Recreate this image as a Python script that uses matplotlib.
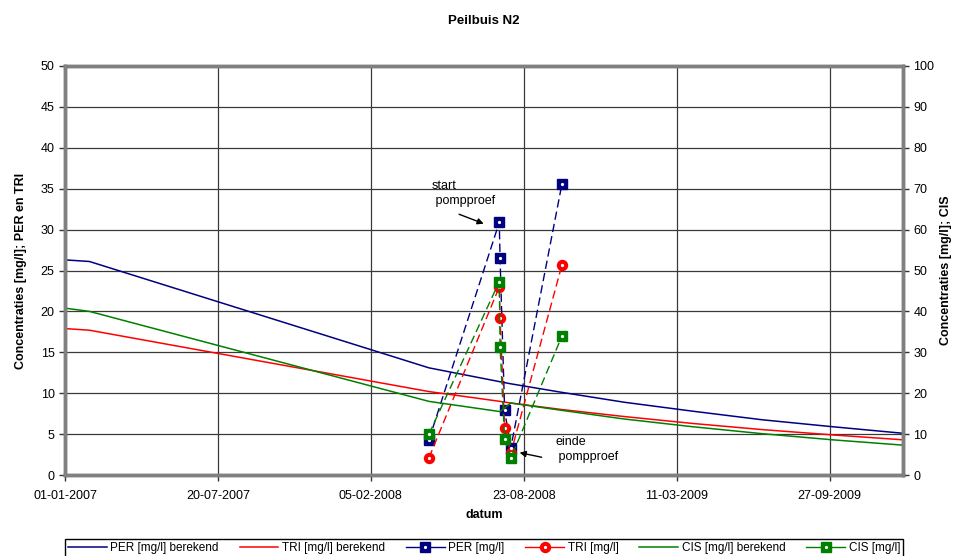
import numpy as np
import pandas as pd
import matplotlib
matplotlib.use('Agg')
import matplotlib.pyplot as plt
import matplotlib.dates as mdates
from matplotlib.lines import Line2D
from matplotlib.legend_handler import HandlerTuple

plt.rcParams['font.family'] = ['Liberation Sans', 'DejaVu Sans']

# berekende concentraties
calc_dates = pd.to_datetime(['2007-01-01', '2007-02-02', '2008-04-21', '2008-07-23', '2008-08-06',
                             '2008-10-12', '2009-01-01', '2009-04-01', '2009-07-01', '2009-10-01',
                             '2010-01-01'])
per_calc = [26.3, 26.1, 13.1, 11.4, 11.15, 10.1, 8.9, 7.8, 6.75, 5.9, 5.1]
tri_calc = [17.9, 17.7, 10.2, 9.0, 8.8, 8.0, 7.15, 6.3, 5.55, 4.9, 4.3]
cis_calc = [40.8, 40.0, 18.0, 15.5, 17.6, 15.8, 13.7, 11.8, 10.1, 8.6, 7.3]

# gemeten concentraties
meas_dates = pd.to_datetime(['2008-04-21', '2008-07-22', '2008-07-23', '2008-07-29',
                             '2008-08-06', '2008-10-12'])
per_meas = [4.3, 30.9, 26.5, 7.9, 3.3, 35.6]
tri_meas = [2.1, 23.0, 19.2, 5.8, 2.65, 25.7]
cis_meas = [10.0, 47.3, 31.4, 8.7, 4.1, 34.0]

x_ticks = pd.date_range('2007-01-01', periods=6, freq='200D')

NAVY = '#000080'
RED = '#FF0000'
GREEN = '#008000'


def measured(ax, x, y, color, marker, ms):
    ax.plot(x, y, color=color, lw=1.0, dashes=(6, 3), marker=marker, ms=ms,
            mfc=color, mec=color, zorder=4)
    ax.plot(x, y, ls='none', marker='o', ms=1.3, mfc='white', mec='white', zorder=5)
    # legend proxy: solid line with marker + white centre
    line = Line2D([], [], color=color, lw=1.0, marker=marker, ms=ms, mfc=color, mec=color)
    dot = Line2D([], [], ls='none', marker='o', ms=1.3, mfc='white', mec='white')
    return (line, dot)


def main():
    fig = plt.figure(figsize=(9.55, 5.56), dpi=100)
    ax = fig.add_axes([65 / 955, 1 - 475 / 556, (903 - 65) / 955, (475 - 66) / 556])
    ax2 = ax.twinx()

    h1, = ax.plot(calc_dates, per_calc, color=NAVY, lw=1.1)
    h2, = ax.plot(calc_dates, tri_calc, color=RED, lw=1.1)
    h3 = measured(ax, meas_dates, per_meas, NAVY, 's', 6.5)
    h4 = measured(ax, meas_dates, tri_meas, RED, 'o', 7.2)
    h5, = ax2.plot(calc_dates, cis_calc, color=GREEN, lw=1.1)
    h6 = measured(ax2, meas_dates, cis_meas, GREEN, 's', 6.5)

    ax.set_xlim(pd.Timestamp('2007-01-01'), pd.Timestamp('2010-01-01'))
    ax.set_ylim(0, 50)
    ax2.set_ylim(0, 100)
    ax.set_yticks(np.arange(0, 51, 5))
    ax2.set_yticks(np.arange(0, 101, 10))
    ax.set_xticks(x_ticks)
    ax.xaxis.set_major_formatter(mdates.DateFormatter('%d-%m-%Y'))

    ax.grid(True, color='#3a3a3a', lw=0.9)
    ax.set_axisbelow(True)
    for a in (ax, ax2):
        for s in a.spines.values():
            s.set_color('#808080')
            s.set_linewidth(2.5)
        a.tick_params(labelsize=9, length=4, width=1, color='#333333', direction='out')
    ax.tick_params(axis='x', pad=7)

    ax.set_title('Peilbuis N2', fontsize=9.5, fontweight='bold', pad=30)
    ax.set_xlabel('datum', fontsize=9, fontweight='bold', labelpad=5)
    ax.set_ylabel('Concentraties [mg/l]; PER en TRI', fontsize=9, fontweight='bold', labelpad=10)
    ax2.set_ylabel('Concentraties [mg/l]; CIS', fontsize=9, fontweight='bold', rotation=90,
                   labelpad=4)

    arrow = dict(arrowstyle='-|>', color='black', lw=1.0, mutation_scale=9)
    ax.text(pd.Timestamp('2008-04-25'), 34.4, 'start\n pompproef', fontsize=9,
            ha='left', va='center', linespacing=1.3)
    ax.annotate('', xy=(pd.Timestamp('2008-07-05'), 30.6),
                xytext=(pd.Timestamp('2008-05-27'), 32.0), arrowprops=arrow)
    ax.text(pd.Timestamp('2008-10-03'), 3.1, 'einde\n pompproef', fontsize=9,
            ha='left', va='center', linespacing=1.3)
    ax.annotate('', xy=(pd.Timestamp('2008-08-14'), 2.8),
                xytext=(pd.Timestamp('2008-09-19'), 2.1), arrowprops=arrow)

    handles = [h1, h2, h3, h4, h5, h6]
    labels = ['PER [mg/l] berekend', 'TRI [mg/l] berekend', 'PER [mg/l]', 'TRI [mg/l]',
              'CIS [mg/l] berekend', 'CIS [mg/l]']
    leg = fig.legend(handles, labels, loc='upper left',
                     bbox_to_anchor=(65 / 955, 1 - 539 / 556, (903 - 65) / 955, 0.0),
                     mode='expand', ncol=6, fontsize=8.5, handlelength=3.3,
                     handletextpad=0.3, borderpad=0.25, borderaxespad=0, columnspacing=0.8,
                     fancybox=False, edgecolor='black', framealpha=1,
                     handler_map={tuple: HandlerTuple(ndivide=1, pad=0)})
    leg.get_frame().set_linewidth(1.0)

    fig.savefig('out.png', dpi=100)
    return


if __name__ == '__main__':
    main()
